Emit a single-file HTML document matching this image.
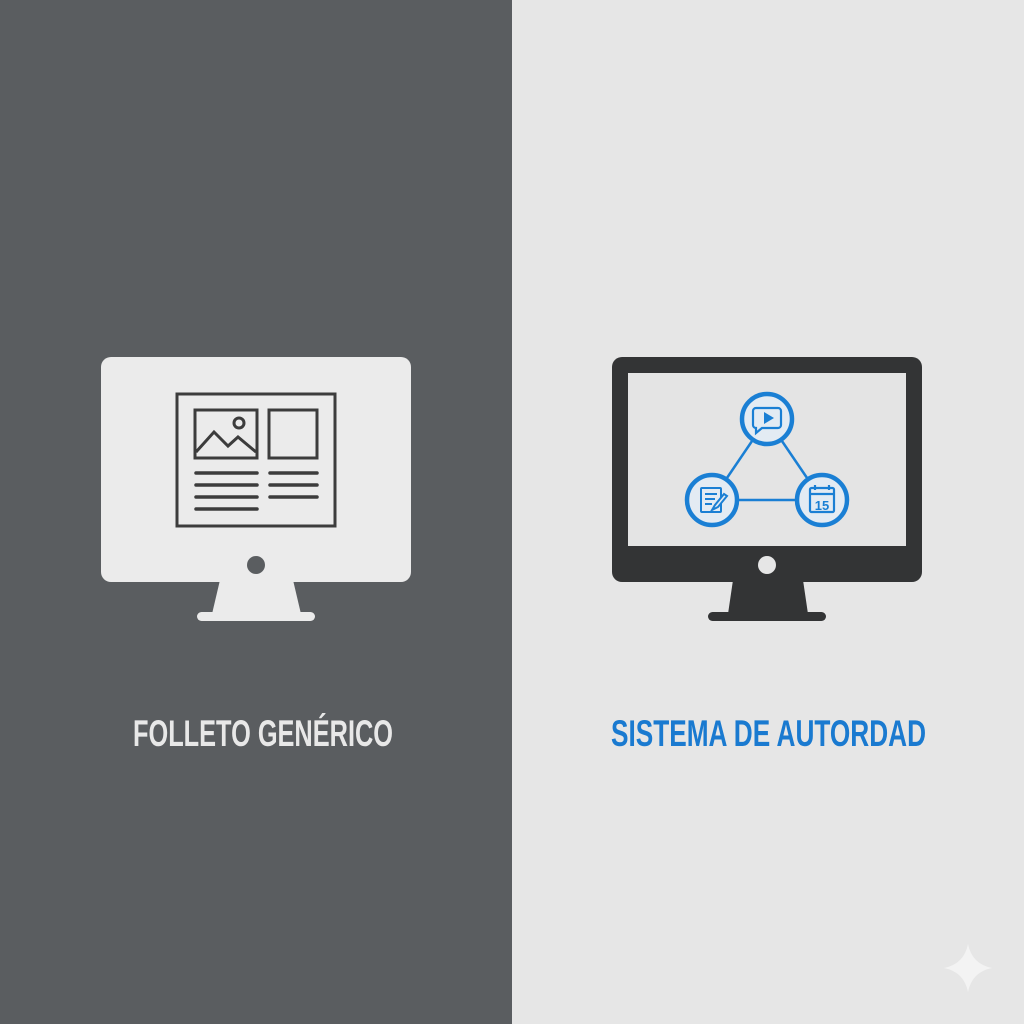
<!DOCTYPE html>
<html><head><meta charset="utf-8"><style>
html,body{margin:0;padding:0;width:1024px;height:1024px;overflow:hidden}
</style></head><body>
<svg width="1024" height="1024" viewBox="0 0 1024 1024" xmlns="http://www.w3.org/2000/svg">
<rect x="0" y="0" width="512" height="1024" fill="#5a5d60"/>
<rect x="512" y="0" width="512" height="1024" fill="#e6e6e6"/>

<!-- left monitor -->
<rect x="101" y="357" width="310" height="225" rx="10" fill="#ebebeb"/>
<polygon points="220,580 293,580 301,614 212,614" fill="#ebebeb"/>
<rect x="197" y="612" width="118" height="9" rx="4.5" fill="#ebebeb"/>
<circle cx="256" cy="565" r="9" fill="#5a5d60"/>
<g fill="none" stroke="#3c3c3c" stroke-width="3">
<rect x="177" y="394" width="158" height="132"/>
<rect x="195" y="410" width="62" height="48"/>
<rect x="269" y="410" width="48" height="48"/>
<polyline points="196,452 214,432 228,446 238,437 256,452"/>
<circle cx="239" cy="423" r="5"/>
</g>
<g stroke="#3c3c3c" stroke-width="3.5" stroke-linecap="round">
<line x1="196" y1="473" x2="257" y2="473"/><line x1="196" y1="485" x2="257" y2="485"/>
<line x1="196" y1="497" x2="257" y2="497"/><line x1="196" y1="509" x2="257" y2="509"/>
<line x1="270" y1="473" x2="317" y2="473"/><line x1="270" y1="485" x2="317" y2="485"/>
<line x1="270" y1="497" x2="317" y2="497"/>
</g>

<!-- right monitor -->
<rect x="612" y="357" width="310" height="225" rx="10" fill="#333435"/>
<rect x="628" y="373" width="278" height="173" fill="#e4e4e4"/>
<polygon points="733,580 803,580 808,614 728,614" fill="#333435"/>
<rect x="708" y="612" width="118" height="9" rx="4.5" fill="#333435"/>
<circle cx="767" cy="565" r="9" fill="#e6e6e6"/>

<g stroke="#1a7fd4" stroke-width="2.5">
<line x1="767" y1="419" x2="712" y2="500"/>
<line x1="767" y1="419" x2="822" y2="500"/>
<line x1="712" y1="500" x2="822" y2="500"/>
</g>
<g fill="#e3ebf3" stroke="#1a7fd4" stroke-width="4.5">
<circle cx="767" cy="419" r="25"/>
<circle cx="712" cy="500" r="25"/>
<circle cx="822" cy="500" r="25"/>
</g>
<g fill="none" stroke="#1a7fd4" stroke-width="2.2">
<path d="M756,408 h22 a3,3 0 0 1 3,3 v14 a3,3 0 0 1 -3,3 h-16 l-6,5 v-5 a3,3 0 0 1 -3,-3 v-14 a3,3 0 0 1 3,-3z"/>
</g>
<polygon points="764,412 764,424 774,418" fill="#1a7fd4"/>
<g fill="none" stroke="#1a7fd4" stroke-width="2">
<rect x="701" y="488" width="20" height="24" rx="1"/>
<line x1="705" y1="494" x2="717" y2="494"/><line x1="705" y1="499" x2="715" y2="499"/>
<line x1="705" y1="504" x2="712" y2="504"/>
<path d="M712,510 l3,-5 l9,-11 l3,2 l-9,11z" fill="#e3ebf3"/>
</g>
<g fill="none" stroke="#1a7fd4" stroke-width="2.2">
<rect x="810" y="488" width="24" height="24" rx="1.5"/>
<line x1="810" y1="494" x2="834" y2="494"/>
<line x1="815" y1="485" x2="815" y2="490"/><line x1="829" y1="485" x2="829" y2="490"/>
</g>
<text x="822" y="510" text-anchor="middle" font-family="Liberation Sans, sans-serif" font-weight="bold" font-size="13" fill="#1a7fd4">15</text>

<text x="133" y="746" textLength="260" lengthAdjust="spacingAndGlyphs" font-family="Liberation Sans Narrow, Liberation Sans, sans-serif" font-weight="bold" font-size="37" fill="#e8e8e8">FOLLETO GENÉRICO</text>
<text x="611" y="746" textLength="315" lengthAdjust="spacingAndGlyphs" font-family="Liberation Sans Narrow, Liberation Sans, sans-serif" font-weight="bold" font-size="37" fill="#1a7ad0">SISTEMA DE AUTORDAD</text>

<path d="M968,944 Q972,964 992,968 Q972,972 968,992 Q964,972 944,968 Q964,964 968,944Z" fill="#f3f3f3"/>
</svg>
</body></html>
